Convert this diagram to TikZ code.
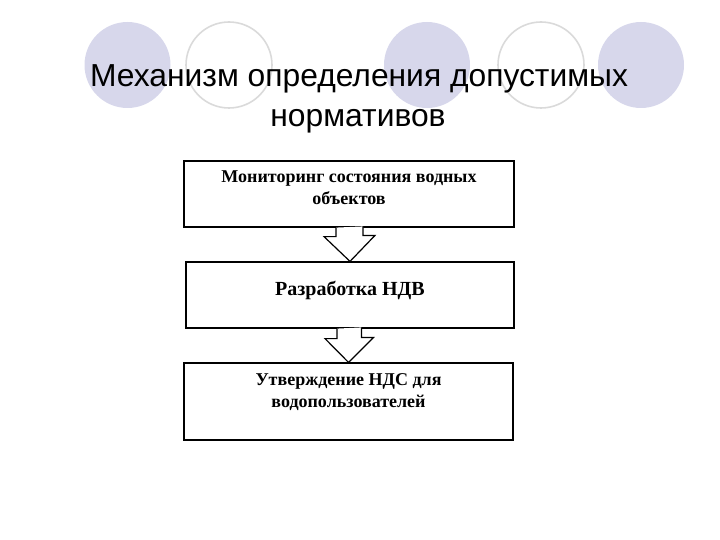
\documentclass[tikz,border=0pt]{standalone}
\usepackage{fontspec}
\setmainfont{Liberation Serif}
\newfontfamily\titlefont{Liberation Sans}
\definecolor{lav}{RGB}{215,215,235}
\definecolor{ringgray}{RGB}{218,218,218}
\begin{document}
\begin{tikzpicture}[x=1pt,y=-1pt,
  dot/.style={fill=lav,draw=none},
  ring/.style={draw=ringgray,line width=1.6pt,fill=none},
  box/.style={draw=black,line width=1.2pt,fill=white,minimum width=330pt,inner sep=0pt},
  boxtext/.style={font=\bfseries\fontsize{18}{22}\selectfont,align=center,inner sep=0pt},
  ttl/.style={font=\titlefont\fontsize{31.8}{40}\selectfont,inner sep=0pt,anchor=base},
  arr/.style={draw=black,line width=1.2pt,fill=white,line join=miter}]
\useasboundingbox (0,0) rectangle (720,540);
% decorative circles
\fill[dot] (127.5,65) ellipse[x radius=43,y radius=43];
\draw[ring] (229,65) ellipse[x radius=43,y radius=43];
\fill[dot] (427,65) ellipse[x radius=43,y radius=43];
\draw[ring] (541,65) ellipse[x radius=43,y radius=43];
\fill[dot] (641,65) ellipse[x radius=43,y radius=43];
% title
\node[ttl] (t1) at (359,87) {Механизм определения допустимых};
\node[ttl] (t2) at (358,127) {нормативов};
% boxes
\node[box,minimum height=66pt] (b1) at (349,194) {};
\node[box,minimum width=328pt,minimum height=66pt] (b2) at (350,295) {};
\node[box,minimum width=329pt,minimum height=77pt] (b3) at (348.5,401.5) {};
% texts
\node[boxtext] (x1) at (349,188) {Мониторинг состояния водных\\объектов};
\node[boxtext,font=\bfseries\fontsize{20}{24}\selectfont] (x2) at (350,290) {Разработка НДВ};
\node[boxtext] (x3) at (348.5,392) {Утверждение НДС для\\водопользователей};
% arrows
\draw[arr] (b1.south) ++(-13,0) -- ++(0,9) -- ++(-12,0) -- (b2.north) -- ++(25,-26) -- ++(-12,0) -- ++(0,-9);
\draw[arr] (b2.south) ++(-13,0) -- ++(0,10) -- ++(-12,0) -- (b3.north) -- ++(25,-25) -- ++(-12,0) -- ++(0,-10);
\end{tikzpicture}
\end{document}
